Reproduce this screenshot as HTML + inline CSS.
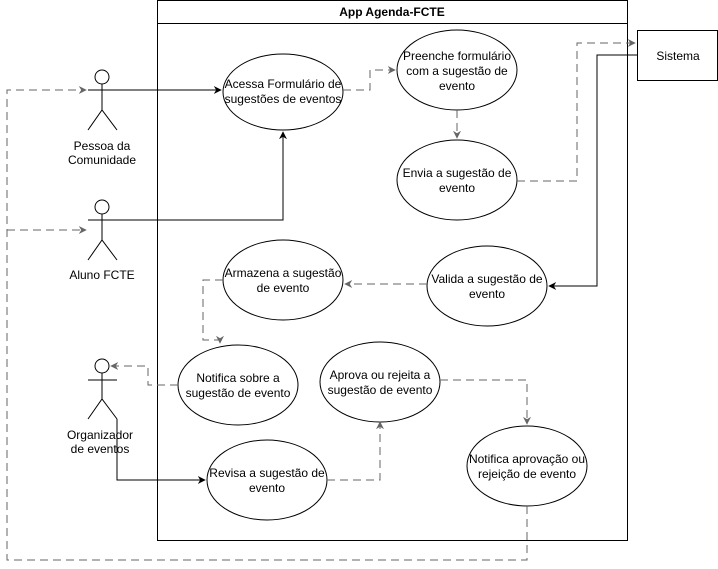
<!DOCTYPE html>
<html><head><meta charset="utf-8"><style>body{margin:0;background:#fff}svg{display:block}text{font-family:"Liberation Sans",Arial,sans-serif;font-size:12px;fill:#000}</style></head><body>
<svg width="718" height="569" viewBox="0 0 718 569" xmlns="http://www.w3.org/2000/svg">
<defs>
<marker id="a" viewBox="0 0 10 10" refX="9" refY="5" markerWidth="8" markerHeight="8" orient="auto"><path d="M0,0 L10,5 L0,10 L3,5 z" fill="#000"/></marker>
<marker id="g" viewBox="0 0 10 10" refX="9" refY="5" markerWidth="8" markerHeight="8" orient="auto"><path d="M0,0 L10,5 L0,10 L3,5 z" fill="#666"/></marker>
</defs>
<rect x="157.5" y="0.5" width="470" height="540" fill="#fff" stroke="#000"/>
<line x1="157" y1="23.5" x2="627" y2="23.5" stroke="#000"/>
<text x="392" y="16" text-anchor="middle" font-weight="bold">App Agenda-FCTE</text>
<rect x="637.5" y="30.5" width="80" height="50" fill="#fff" stroke="#000"/>
<text x="678" y="60" text-anchor="middle">Sistema</text>
<g fill="#fff" stroke="#000">
<ellipse cx="283" cy="92" rx="60" ry="38"/>
<ellipse cx="457" cy="70" rx="60" ry="40"/>
<ellipse cx="457" cy="180" rx="60" ry="40"/>
<ellipse cx="487" cy="286" rx="60" ry="40"/>
<ellipse cx="283" cy="280" rx="60" ry="40"/>
<ellipse cx="238" cy="385" rx="60" ry="40"/>
<ellipse cx="380" cy="382" rx="60" ry="40"/>
<ellipse cx="267" cy="480" rx="60" ry="40"/>
<ellipse cx="527" cy="466" rx="60" ry="40"/>
</g>
<g text-anchor="middle">
<text x="283" y="88">Acessa Formulário de</text><text x="283" y="103">sugestões de eventos</text>
<text x="457" y="60">Preenche formulário</text><text x="457" y="75">com a sugestão de</text><text x="457" y="90">evento</text>
<text x="457" y="177">Envia a sugestão de</text><text x="457" y="192">evento</text>
<text x="487" y="283">Valida a sugestão de</text><text x="487" y="298">evento</text>
<text x="283" y="277">Armazena a sugestão</text><text x="283" y="292">de evento</text>
<text x="238" y="382">Notifica sobre a</text><text x="238" y="397">sugestão de evento</text>
<text x="380" y="379">Aprova ou rejeita a</text><text x="380" y="394">sugestão de evento</text>
<text x="267" y="477">Revisa a sugestão de</text><text x="267" y="492">evento</text>
<text x="527" y="463">Notifica aprovação ou</text><text x="527" y="478">rejeição de evento</text>
<text x="102" y="150">Pessoa da</text><text x="102" y="164">Comunidade</text>
<text x="102" y="279">Aluno FCTE</text>
<text x="100" y="439">Organizador</text><text x="100" y="453">de eventos</text>
</g>
<g fill="none" stroke="#000">
<circle cx="102" cy="77" r="7" fill="#fff"/><path d="M102,84V110M88,90H117M88,130L102,110L117,130"/>
<circle cx="102" cy="207" r="7" fill="#fff"/><path d="M102,214V240M88,220H117M88,260L102,240L117,260"/>
<circle cx="102" cy="366" r="7" fill="#fff"/><path d="M102,373V399M88,380H117M88,419L102,399L117,419"/>
<path d="M117,90H221" marker-end="url(#a)"/>
<path d="M117,220H283V132" marker-end="url(#a)"/>
<path d="M117,419V480H205" marker-end="url(#a)"/>
<path d="M637,55H597V286H549" marker-end="url(#a)"/>
</g>
<g fill="none" stroke="#666" stroke-dasharray="8,5">
<path d="M343,90H370V70H395" marker-end="url(#g)"/>
<path d="M457,110V138" marker-end="url(#g)"/>
<path d="M517,181H577V43H635" marker-end="url(#g)"/>
<path d="M427,284H345" marker-end="url(#g)"/>
<path d="M223,280H203V340H220V343" marker-end="url(#g)"/>
<path d="M178,385H148V366H111" marker-end="url(#g)"/>
<path d="M327,480H380V422" marker-end="url(#g)"/>
<path d="M440,380H527V424" marker-end="url(#g)"/>
<path d="M527,506V560H7V90H86" marker-end="url(#g)"/>
<path d="M7,230H86" marker-end="url(#g)"/>
</g>
</svg>
</body></html>
